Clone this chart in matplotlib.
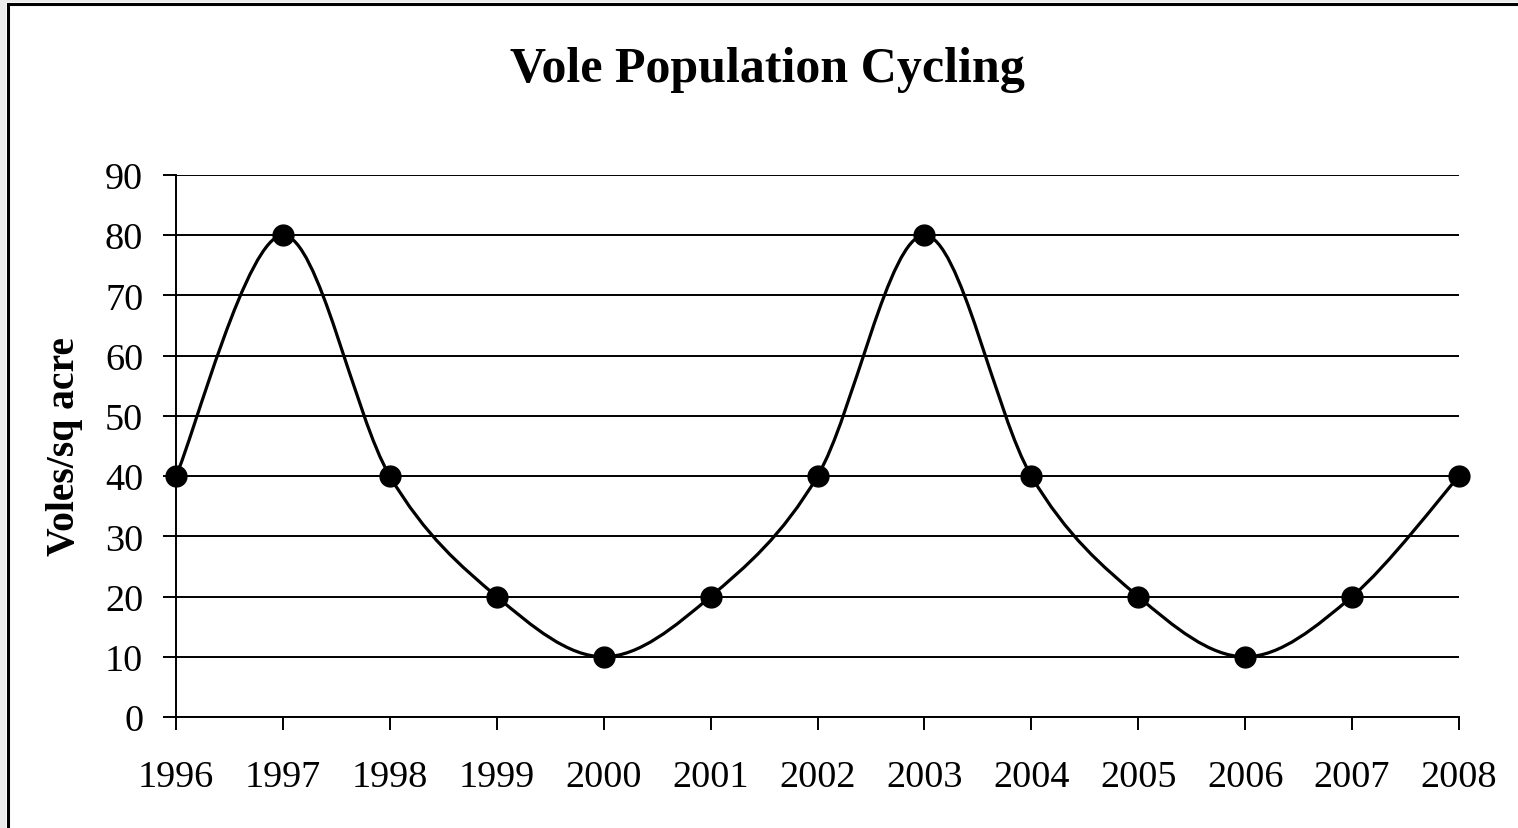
import matplotlib
matplotlib.use("Agg")
import matplotlib.pyplot as plt
from matplotlib.path import Path
from matplotlib.patches import PathPatch, Rectangle
from matplotlib.lines import Line2D
import numpy as np

years = [1996, 1997, 1998, 1999, 2000, 2001, 2002, 2003, 2004, 2005, 2006, 2007, 2008]
voles = [40, 80, 40, 20, 10, 20, 40, 80, 40, 20, 10, 20, 40]
title = "Vole Population Cycling"
ylabel = "Voles/sq acre"
yticks = [0, 10, 20, 30, 40, 50, 60, 70, 80, 90]

plt.rcParams['font.family'] = ['Liberation Serif', 'DejaVu Serif']

fig = plt.figure(figsize=(15.18, 8.29), dpi=100)
W, H = 1518, 829
ax = fig.add_axes([176 / W, 1 - 718 / H, (1459 - 176) / W, (718 - 176) / H])

# Excel-style smoothed line (Catmull-Rom to cubic Bezier)
x = np.asarray(years, dtype=float)
y = np.asarray(voles, dtype=float)
verts = [(x[0], y[0])]
codes = [Path.MOVETO]
n = len(x)
for i in range(n - 1):
    p0 = (x[i - 1], y[i - 1]) if i > 0 else (x[i], y[i])
    p1 = (x[i], y[i])
    p2 = (x[i + 1], y[i + 1])
    p3 = (x[i + 2], y[i + 2]) if i + 2 < n else (x[i + 1], y[i + 1])
    c1 = (p1[0] + (p2[0] - p0[0]) / 6, p1[1] + (p2[1] - p0[1]) / 6)
    c2 = (p2[0] - (p3[0] - p1[0]) / 6, p2[1] - (p3[1] - p1[1]) / 6)
    verts += [c1, c2, p2]
    codes += [Path.CURVE4] * 3
ax.add_patch(PathPatch(Path(verts, codes), facecolor='none', edgecolor='black',
                       lw=2.3, zorder=3, clip_on=False))
ax.plot(years, voles, linestyle='none', marker='o', markersize=15,
        color='black', zorder=4, clip_on=False)

ax.set_xlim(1996, 2008)
ax.set_ylim(0, 90)
ax.set_xticks(years)
ax.set_yticks(yticks)
ax.grid(axis='y', color='black', lw=1.4)
ax.set_axisbelow(True)
for s in ['top', 'right']:
    ax.spines[s].set_visible(False)
for s in ['left', 'bottom']:
    ax.spines[s].set_linewidth(1.4)
ax.tick_params(axis='both', direction='out', length=9.5, width=1.4, labelsize=27.5)
ax.tick_params(axis='y', pad=14)
ax.tick_params(axis='x', pad=21)

ax.set_ylabel(ylabel, fontsize=28.5, fontweight='bold', labelpad=16)
fig.text(767 / W, 1 - 70 / H, title, ha='center', va='center', fontsize=36, fontweight='bold')

# grey margin outside the chart frame (left and top), and frame lines
fig.patches.append(Rectangle((0, 0), 6 / W, 1, transform=fig.transFigure,
                             facecolor='#ebebeb', edgecolor='none', zorder=0))
fig.patches.append(Rectangle((0, 1 - 3 / H), 1, 3 / H, transform=fig.transFigure,
                             facecolor='#ebebeb', edgecolor='none', zorder=0))
fig.lines.append(Line2D([7.5 / W, 7.5 / W], [0, 1 - 4.5 / H], transform=fig.transFigure,
                        color='black', lw=2.2))
fig.lines.append(Line2D([7.5 / W, 1], [1 - 4.5 / H, 1 - 4.5 / H], transform=fig.transFigure,
                        color='black', lw=2.2))

fig.savefig('out.png', dpi=100)
